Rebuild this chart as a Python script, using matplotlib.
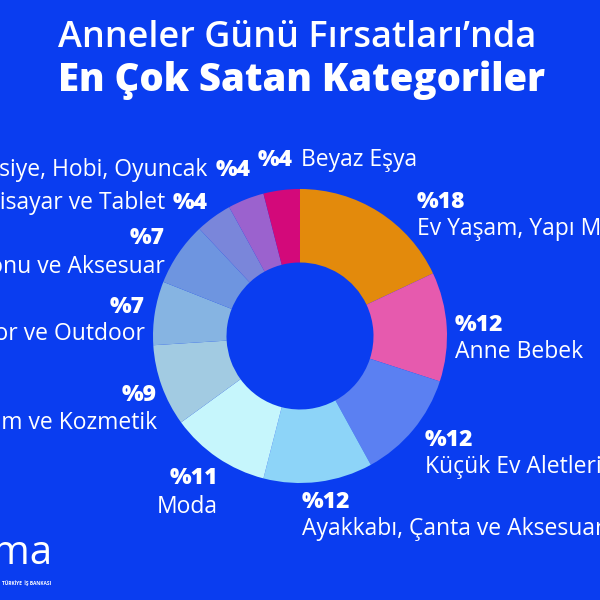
import matplotlib
matplotlib.use("Agg")
import matplotlib.pyplot as plt

plt.rcParams['font.family'] = ['Open Sans', 'DejaVu Sans']

# data (clockwise from top)
categories = ["Ev Yaşam, Yapı Market ve Bahçe", "Anne Bebek", "Küçük Ev Aletleri",
              "Ayakkabı, Çanta ve Aksesuar", "Moda", "Kişisel Bakım ve Kozmetik",
              "Spor ve Outdoor", "Cep Telefonu ve Aksesuar", "Bilgisayar ve Tablet",
              "Kırtasiye, Hobi, Oyuncak", "Beyaz Eşya"]
shares = [18, 12, 12, 12, 11, 9, 7, 7, 4, 4, 4]
colors = ["#E38A0C", "#E65AAE", "#5B80F2", "#8DD4F8", "#C6F6FC", "#A2CBE2",
          "#86B4E2", "#6E95E0", "#7A86DA", "#9B62CE", "#D3097A"]

bg = "#0A3DF0"
fig = plt.figure(figsize=(6, 6), dpi=100, facecolor=bg)

# donut
ax = fig.add_axes([153/600, 1 - 483/600, 294/600, 294/600])
ax.set_facecolor(bg)
ax.pie(shares, colors=colors, startangle=90, counterclock=False, radius=1,
       wedgeprops=dict(width=0.5, linewidth=0))
ax.set_xlim(-1, 1)
ax.set_ylim(-1, 1)
ax.set_aspect("equal")
ax.axis("off")

def px(x, y):
    return x / 600, 1 - y / 600

# title
fig.text(*px(297, 38), "Anneler Günü Fırsatları’nda", color="white",
         fontsize=26, fontweight="semibold", ha="center", va="center")
fig.text(*px(301, 80), "En Çok Satan Kategoriler", color="white",
         fontsize=27.5, fontweight="heavy", ha="center", va="center")

fs = 16.5
# label positions in pixels: (x, y of percent, y of name, alignment)
stacked = {
    0: (417, 202, 229, "left"),
    1: (455, 325, 352, "left"),
    2: (425, 440, 467, "left"),
    3: (302, 502, 529, "left"),
    4: (218, 478, 507, "right"),
    5: (157, 395, 423, "right"),
    6: (145, 307, 334, "right"),
    7: (165, 238, 267, "right"),
}
for i, (x, yp, yn, al) in stacked.items():
    fig.text(*px(x, yp), "%" + str(shares[i]), color="white", fontsize=fs,
             fontweight="heavy", ha=al, va="center")
    fig.text(*px(x, yn), categories[i], color="white", fontsize=fs,
             ha=al, va="center")

# single-line labels
fig.text(*px(208, 203), "%" + str(shares[8]), color="white", fontsize=fs,
         fontweight="heavy", ha="right", va="center")
fig.text(*px(165, 203), categories[8], color="white", fontsize=fs,
         ha="right", va="center")
fig.text(*px(251, 170), "%" + str(shares[9]), color="white", fontsize=fs,
         fontweight="heavy", ha="right", va="center")
fig.text(*px(207, 170), categories[9], color="white", fontsize=fs,
         ha="right", va="center")
fig.text(*px(258, 160), "%" + str(shares[10]), color="white", fontsize=fs,
         fontweight="heavy", ha="left", va="center")
fig.text(*px(301, 160), categories[10], color="white", fontsize=fs,
         ha="left", va="center")

# logo
fig.text(*px(53, 564), "pazarama", color="white", fontsize=29,
         ha="right", va="baseline")
fig.text(*px(27, 583), "TÜRKİYE  İŞ BANKASI", color="white", fontsize=3.5,
         fontweight="bold", ha="center", va="center")

fig.savefig("out.png", dpi=100, facecolor=bg)
